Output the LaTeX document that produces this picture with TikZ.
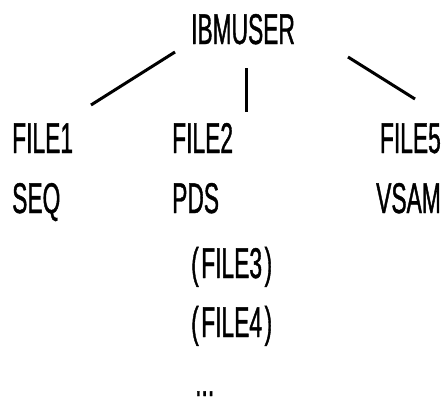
\documentclass[tikz,border=0pt]{standalone}
\usepackage{fontspec}
\newfontfamily\condfont[FakeStretch=0.53,FakeBold=0.9]{Liberation Sans}
\newcommand{\paren}[1]{(\kern2.5pt#1\kern2.5pt)}
\begin{document}
\begin{tikzpicture}[x=1pt,y=-1pt,
  lbl/.style={inner sep=0pt, font=\condfont\fontsize{43}{48}\selectfont},
  conn/.style={line width=3pt}]
\useasboundingbox (0,0) rectangle (447,402);
\node[lbl, anchor=base] (root) at (243,44) {IBMUSER};
\node[lbl, anchor=base west] (f1) at (12,153) {FILE1};
\node[lbl, anchor=base west] (f2) at (172,153) {FILE2};
\node[lbl, anchor=base east] (f5) at (441,153) {FILE5};
\node[lbl, anchor=base west] (seq) at (12,213) {SEQ};
\node[lbl, anchor=base west] (pds) at (172,213) {PDS};
\node[lbl, anchor=base east] (vsam) at (441,213) {VSAM};
\node[lbl, anchor=base west] (f3) at (191,278) {\paren{FILE3}};
\node[lbl, anchor=base west] (f4) at (191,337) {\paren{FILE4}};
\node[lbl, anchor=base west] (dots) at (195,396) {...};
\coordinate (l1) at (175,52);
\coordinate (l2) at (91,105);
\coordinate (m1) at (246,68);
\coordinate (m2) at (246,112);
\coordinate (r1) at (348,57);
\coordinate (r2) at (415,99);
\draw[conn] (l1) -- (l2);
\draw[conn] (m1) -- (m2);
\draw[conn] (r1) -- (r2);
\end{tikzpicture}
\end{document}
